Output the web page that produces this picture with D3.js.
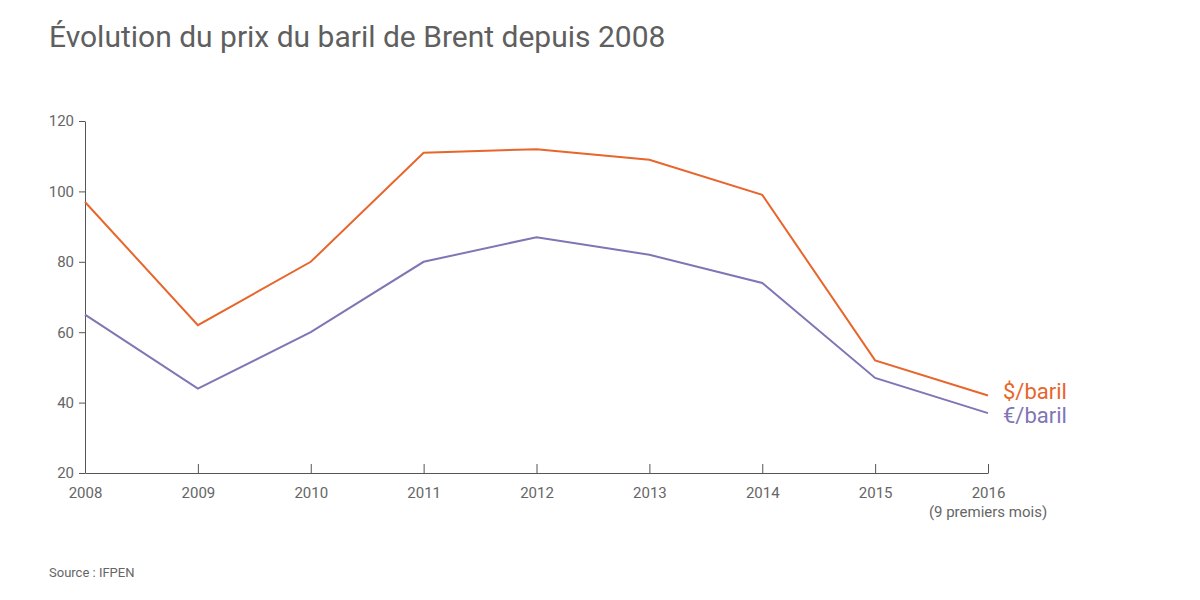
<!DOCTYPE html>
<html><head><meta charset="utf-8">
<script src="https://cdn.jsdelivr.net/npm/d3@7"></script>
<style>body{margin:0;background:#fff;font-family:Roboto,"Open Sans",sans-serif;}</style>
</head><body>
<svg id="c" width="1200" height="600"></svg>
<script>
const years = [2008,2009,2010,2011,2012,2013,2014,2015,2016];
const usd = [97,62,80,111,112,109,99,52,42];
const eur = [65,44,60,80,87,82,74,47,37];
const yTicks = [20,40,60,80,100,120];
const seriesLabels = ["$/baril","€/baril"];

const svg = d3.select("#c");
const x = d3.scaleLinear().domain([2008,2016]).range([85,988]);
const y = d3.scaleLinear().domain([20,120]).range([473,121]);
const txt = "#666", ax = "#555";

svg.append("text").attr("x",49).attr("y",47).attr("font-size",30).attr("fill","#5f5f5f")
  .text("Évolution du prix du baril de Brent depuis 2008");

const ya = svg.append("g").attr("transform","translate(85,0)")
  .call(d3.axisLeft(y).tickValues(yTicks).tickSize(6).tickPadding(5).tickSizeOuter(0));
ya.selectAll("text").attr("font-size",15).attr("fill",txt).attr("font-family","Roboto");
ya.selectAll("line,path").attr("stroke",ax);

const xa = svg.append("g").attr("transform","translate(0,473)")
  .call(d3.axisBottom(x).tickValues(years).tickFormat(d3.format("d")).tickSize(-9).tickSizeOuter(0).tickPadding(14));
xa.selectAll("text").attr("font-size",15).attr("fill",txt).attr("font-family","Roboto").attr("dy","0.71em");
xa.selectAll("line,path").attr("stroke",ax);
xa.selectAll(".tick").filter(d=>d===2008).select("line").remove();
svg.append("text").attr("x",x(2016)).attr("y",517).attr("text-anchor","middle")
  .attr("font-size",15).attr("fill",txt).text("(9 premiers mois)");

const line = d3.line().x((d,i)=>x(years[i])).y(d=>y(d));
const colors = ["#e8652c","#8075b5"];
const labelDy = [3, 10];
[usd,eur].forEach((s,k)=>{
  svg.append("path").datum(s).attr("d",line).attr("fill","none")
    .attr("stroke",colors[k]).attr("stroke-width",2).attr("stroke-linejoin","miter");
  svg.append("text").attr("x",1003).attr("y",y(s[s.length-1])+labelDy[k])
    .attr("font-size",22).attr("fill",colors[k]).text(seriesLabels[k]);
});

svg.append("text").attr("x",49).attr("y",577).attr("font-size",13).attr("fill","#666").text("Source : IFPEN");
</script>
</body></html>
